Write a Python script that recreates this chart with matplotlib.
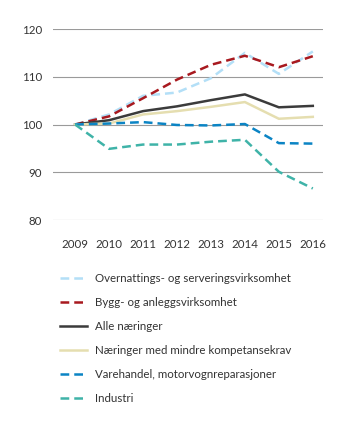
import matplotlib.pyplot as plt

plt.rcParams['font.family'] = ['Lato', 'DejaVu Sans']

years = [2009, 2010, 2011, 2012, 2013, 2014, 2015, 2016]

overnatting = [100, 102.1, 106.0, 106.7, 109.7, 115.0, 110.6, 115.3]
bygg = [100, 101.7, 105.5, 109.4, 112.5, 114.4, 112.0, 114.3]
alle = [100, 100.9, 102.8, 103.8, 105.1, 106.3, 103.6, 103.9]
mindre_krav = [100, 100.2, 102.1, 102.8, 103.7, 104.7, 101.2, 101.6]
varehandel = [100, 100.2, 100.5, 99.9, 99.8, 100.1, 96.1, 96.0]
industri = [100, 94.9, 95.8, 95.8, 96.4, 96.8, 90.1, 86.6]

labels = [
    "Overnattings- og serveringsvirksomhet",
    "Bygg- og anleggsvirksomhet",
    "Alle næringer",
    "Næringer med mindre kompetansekrav",
    "Varehandel, motorvognreparasjoner",
    "Industri",
]

fig = plt.figure(figsize=(3.45, 4.25), dpi=100)
ax = fig.add_axes([53 / 345, 1 - 220 / 425, 270 / 345, 191 / 425])

dash = (0, (3.5, 2))
ax.plot(years, overnatting, color="#b3dff7", lw=1.8, ls=dash, label=labels[0])
ax.plot(years, bygg, color="#a8191f", lw=1.8, ls=dash, label=labels[1])
ax.plot(years, alle, color="#3b3b3b", lw=1.8, label=labels[2])
ax.plot(years, mindre_krav, color="#e5deb0", lw=1.8, label=labels[3])
ax.plot(years, varehandel, color="#0b84c4", lw=1.8, ls=dash, label=labels[4])
ax.plot(years, industri, color="#3fb3a8", lw=1.8, ls=dash, label=labels[5])

ax.set_ylim(80, 120)
ax.set_yticks([80, 90, 100, 110, 120])
ax.set_xlim(2008.35, 2016.3)
ax.set_xticks(years)
ax.yaxis.grid(True, color="#9a9a9a", lw=0.8)
ax.set_axisbelow(True)
for s in ax.spines.values():
    s.set_visible(False)
ax.tick_params(axis="both", length=0, labelsize=8.3, colors="#333333")
ax.tick_params(axis="x", pad=14)
ax.tick_params(axis="y", pad=8)

handles, labs = ax.get_legend_handles_labels()
fig.legend(handles, labs, loc="upper left", bbox_to_anchor=(50 / 345, 1 - 263 / 425),
           frameon=False, fontsize=8.3, handlelength=2.3, handletextpad=0.7,
           labelspacing=1.12, labelcolor="#333333")

fig.savefig("out.png", dpi=100)
